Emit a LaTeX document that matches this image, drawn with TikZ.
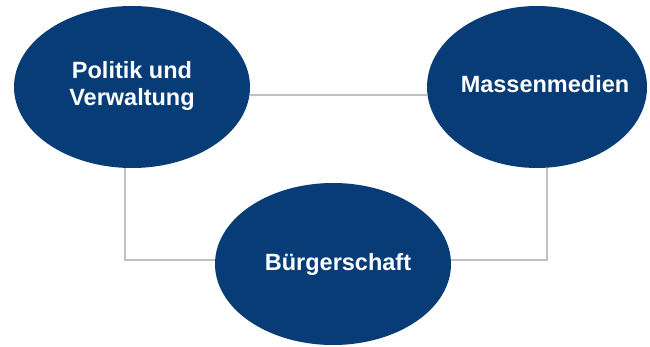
\documentclass[tikz,border=0pt]{standalone}
\usepackage{fontspec}
\setmainfont{Liberation Sans}
\usepackage{tikz}
\usetikzlibrary{shapes.geometric}
\definecolor{actorblue}{RGB}{8,60,118}
\definecolor{linkgray}{RGB}{192,192,192}

\tikzset{
  actor/.style={ellipse,fill=actorblue,draw=none,text=white,inner sep=0pt,
    minimum width=236pt,minimum height=162pt,
    font=\bfseries\fontsize{23.5}{27}\selectfont},
  link/.style={draw=linkgray,line width=1.5pt}
}

\begin{document}
\begin{tikzpicture}[x=1pt,y=-1pt]
    \useasboundingbox (0,0) rectangle (650,347);
    % Actors
    \node[actor] (politik) at (132,87)
      {\raisebox{6pt}{\begin{tabular}{@{}c@{}}Politik und\\Verwaltung\end{tabular}}};
    \node[actor,minimum width=220pt] (medien) at (537,87)
      {\raisebox{7pt}{\makebox[0pt]{\hspace*{16pt}Massenmedien}}};
    \node[actor] (buerger) at (333,264)
      {\raisebox{-3pt}{\makebox[0pt]{\hspace*{10pt}Bürgerschaft}}};
    % Links
    \draw[link] (politik.-4) -- (politik.-4 -| medien.west);
    \draw[link] ([xshift=-7pt]politik.south) |- (buerger.178);
    \draw[link] ([xshift=10pt]medien.south) |- (buerger.2);
\end{tikzpicture}
\end{document}
